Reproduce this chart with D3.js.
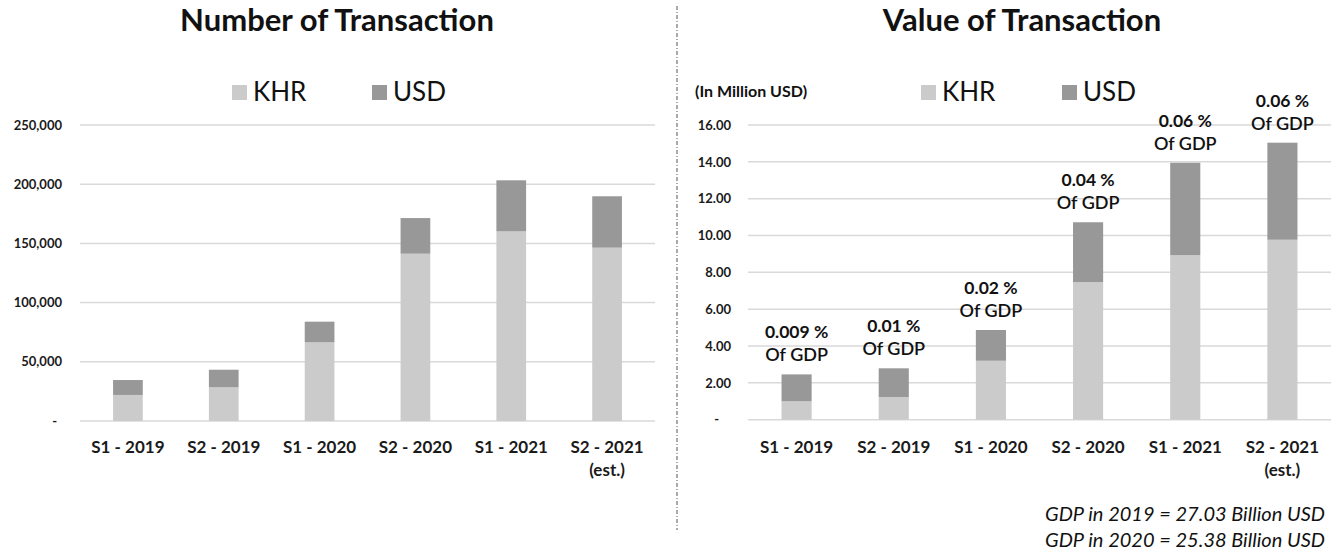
<!DOCTYPE html>
<html>
<head>
<meta charset="utf-8">
<script src="https://cdn.jsdelivr.net/npm/d3@7"></script>
<style>
  html, body { margin: 0; padding: 0; background: #fff; }
  svg { display: block; font-family: Lato, "Open Sans", sans-serif; }
</style>
</head>
<body>
<svg id="chart" width="1331" height="553"></svg>
<script>
// Half-year periods
const periods = ["S1 - 2019", "S2 - 2019", "S1 - 2020", "S2 - 2020", "S1 - 2021", "S2 - 2021"];
const periodNotes = ["", "", "", "", "", "(est.)"];

// Number of transactions by currency
const countKHR = [22000, 28500, 66500, 141300, 160200, 146400];
const countUSD = [12600, 14800, 17400, 30100, 43100, 43400];
const countTicks = [0, 50000, 100000, 150000, 200000, 250000];

// Value of transactions (million USD) by currency
const valueKHR = [1.00, 1.23, 3.20, 7.47, 8.94, 9.77];
const valueUSD = [1.46, 1.56, 1.67, 3.25, 5.01, 5.27];
const valueTicks = [0, 2, 4, 6, 8, 10, 12, 14, 16];

// Share of GDP per period
const gdpShare = ["0.009 %", "0.01 %", "0.02 %", "0.04 %", "0.06 %", "0.06 %"];
const gdpNotes = ["GDP in 2019 = 27.03 Billion USD", "GDP in 2020 = 25.38 Billion USD"];

const currencies = ["KHR", "USD"];
const colors = { KHR: "#cbcbcb", USD: "#989898" };

const svg = d3.select("#chart");

function drawPanel(cfg) {
  const rows = periods.map((p, i) => ({ period: p, KHR: cfg.khr[i], USD: cfg.usd[i] }));
  const series = d3.stack().keys(currencies)(rows);

  const x = d3.scaleBand().domain(periods).range(cfg.xRange)
    .paddingInner(0.69).paddingOuter(0.345);
  const y = d3.scaleLinear().domain(cfg.yDomain).range(cfg.yRange);

  const g = svg.append("g");

  // gridlines
  g.append("g").selectAll("line").data(cfg.ticks).join("line")
    .attr("x1", cfg.xRange[0]).attr("x2", cfg.xRange[1])
    .attr("y1", d => y(d)).attr("y2", d => y(d))
    .attr("stroke", "#d9d9d9").attr("stroke-width", 1.5);

  // y axis labels
  const yAxis = d3.axisLeft(y).tickValues(cfg.ticks).tickSize(0).tickPadding(0)
    .tickFormat(d => d === 0 ? "-" : cfg.fmt(d));
  const ya = g.append("g").attr("transform", `translate(${cfg.labelX},0)`).call(yAxis);
  ya.select(".domain").remove();
  ya.selectAll("text")
    .attr("font-family", "Lato, sans-serif")
    .attr("font-size", 13).attr("font-weight", 700).attr("fill", "#1a1a1a")
    .attr("dx", d => d === 0 ? -cfg.zeroShift : 0);

  // stacked bars
  g.append("g").selectAll("g").data(series).join("g")
    .attr("fill", d => colors[d.key])
    .selectAll("rect").data(d => d).join("rect")
    .attr("x", d => x(d.data.period))
    .attr("width", x.bandwidth())
    .attr("y", d => y(d[1]))
    .attr("height", d => y(d[0]) - y(d[1]));

  // x axis labels
  const xl = g.append("g").selectAll("text").data(periods).join("text")
    .attr("x", d => x(d) + x.bandwidth() / 2)
    .attr("y", cfg.xLabelY)
    .attr("text-anchor", "middle")
    .attr("font-size", 17).attr("font-weight", 700).attr("fill", "#1a1a1a");
  xl.append("tspan").text(d => d);
  xl.append("tspan")
    .attr("x", d => x(d) + x.bandwidth() / 2).attr("dy", 23)
    .text((d, i) => periodNotes[i]);

  // title
  svg.append("text")
    .attr("x", cfg.titleX).attr("y", 31)
    .attr("text-anchor", "middle")
    .attr("font-size", 31).attr("font-weight", 700).attr("fill", "#111")
    .text(cfg.title);

  // legend
  const lg = svg.append("g");
  currencies.forEach((c, i) => {
    const lx = cfg.legendX[i];
    lg.append("rect").attr("x", lx).attr("y", 85).attr("width", 15).attr("height", 15)
      .attr("fill", colors[c]);
    lg.append("text").attr("x", lx + 21).attr("y", 101)
      .attr("font-size", 26).attr("fill", "#111").text(c);
  });

  return { x, y, rows, g };
}

// Left panel: number of transactions
drawPanel({
  khr: countKHR, usd: countUSD, ticks: countTicks,
  xRange: [80, 655], yDomain: [0, 250000], yRange: [421, 125],
  fmt: d3.format(","), labelX: 62, zeroShift: 5,
  xLabelY: 453, title: "Number of Transaction", titleX: 337,
  legendX: [232, 372]
});

// Right panel: value of transactions
const right = drawPanel({
  khr: valueKHR, usd: valueUSD, ticks: valueTicks,
  xRange: [748, 1331], yDomain: [0, 16], yRange: [419.7, 125],
  fmt: d3.format(".2f"), labelX: 731, zeroShift: 12,
  xLabelY: 453, title: "Value of Transaction", titleX: 1022,
  legendX: [921, 1062]
});

// unit label
svg.append("text").attr("x", 695).attr("y", 97)
  .attr("font-size", 16).attr("font-weight", 700).attr("fill", "#111")
  .text("(In Million USD)");

// share-of-GDP annotations above each bar
const ann = right.g.append("g").selectAll("g").data(right.rows).join("g")
  .attr("transform", d => `translate(${right.x(d.period) + right.x.bandwidth() / 2},${right.y(d.KHR + d.USD)})`);
ann.append("text").attr("y", -36).attr("text-anchor", "middle")
  .attr("font-size", 17.5).attr("font-weight", 700).attr("fill", "#111")
  .text((d, i) => gdpShare[i]);
ann.append("text").attr("y", -13).attr("text-anchor", "middle")
  .attr("font-size", 18).attr("font-weight", 600).attr("fill", "#111")
  .text("Of GDP");

// GDP reference notes
svg.append("g").selectAll("text").data(gdpNotes).join("text")
  .attr("x", 1325).attr("y", (d, i) => 521 + i * 26)
  .attr("text-anchor", "end")
  .attr("font-size", 20).attr("font-style", "italic").attr("fill", "#111")
  .text(d => d);

// panel divider
svg.append("line").attr("x1", 677).attr("x2", 677).attr("y1", 6).attr("y2", 530)
  .attr("stroke", "#555").attr("stroke-width", 1)
  .attr("stroke-dasharray", "4,2,1,2");
</script>
</body>
</html>
